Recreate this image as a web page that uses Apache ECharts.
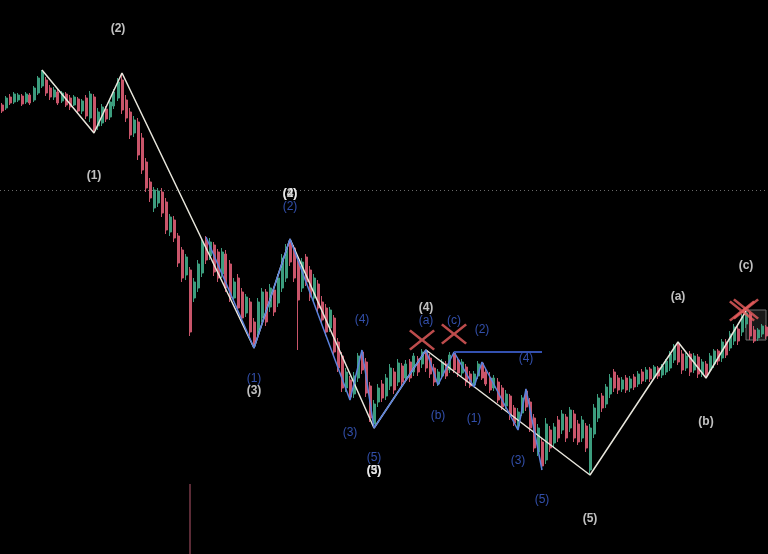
<!DOCTYPE html>
<html><head><meta charset="utf-8">
<script src="https://cdn.jsdelivr.net/npm/echarts@6/dist/echarts.min.js"></script>
<style>html,body{margin:0;padding:0;background:#000;}#c{width:768px;height:554px;}</style>
</head><body><div id="c"></div>
<script>
// candles: [open, close, low, high]
const candles = [
[495,489,487,497],[492,502,490,504],[503,497,495,506],[498,506,496,508],[500,505,498,507],
[504,496,494,506],[498,506,496,508],[505,497,495,507],[500,512,498,514],[507,522,505,524],
[514,528,512,530],[520,507,504,523],[512,503,500,515],[503,510,500,513],[508,497,495,511],
[499,507,497,509],[506,495,493,508],[502,493,490,505],[495,503,494,505],[501,489,486,503],
[489,499,486,501],[502,484,481,505],[482,506,478,509],[503,470,467,506],[474,488,470,492],
[477,493,474,496],[491,481,478,494],[483,498,480,501],[494,508,491,511],[502,518,499,522],
[520,490,486,527],[500,482,478,505],[488,465,461,492],[467,480,463,484],[478,445,440,482],
[462,430,426,467],[438,412,408,442],[418,402,398,422],[392,410,388,413],[397,409,393,412],
[408,387,383,412],[398,370,366,402],[368,383,364,386],[380,362,358,384],[364,337,333,367],
[350,322,318,353],[325,343,320,346],[330,268,264,333],[302,318,298,322],[312,336,308,340],
[327,358,323,362],[360,340,336,364],[344,358,340,362],[355,328,324,358],[348,322,318,351],
[326,348,322,352],[346,312,308,350],[336,302,298,340],[302,318,298,322],[322,292,288,326],
[308,282,278,312],[287,303,283,306],[298,268,264,302],[278,256,252,282],[268,298,262,302],
[282,308,278,312],[308,278,274,311],[293,312,288,316],[310,288,284,313],[297,322,293,326],
[312,342,308,346],[322,352,318,356],[358,338,334,361],[352,322,318,355],[338,300,250,344],
[312,338,308,342],[343,318,314,346],[330,303,299,334],[302,322,298,326],[316,292,288,320],
[298,280,276,304],[292,268,264,296],[272,290,268,293],[282,248,244,285],[258,232,228,262],
[244,212,208,248],[212,228,208,232],[220,203,200,224],[206,224,202,228],[222,244,218,247],
[248,230,226,250],[238,207,203,242],[214,182,178,218],[176,196,172,200],[198,212,193,216],
[216,202,198,220],[204,222,200,226],[214,232,210,236],[228,210,206,232],[218,237,214,241],
[234,218,214,237],[222,236,218,240],[238,222,218,241],[228,244,224,247],[241,228,224,244],
[236,248,232,251],[249,232,228,250],[242,226,222,246],[232,218,214,236],[216,228,214,231],
[224,238,221,241],[236,224,221,239],[230,245,227,248],[247,230,227,248],[240,227,223,243],
[227,238,224,241],[233,218,214,236],[226,214,212,229],[215,226,213,229],[224,236,221,239],
[237,222,220,238],[228,216,214,232],[222,210,207,228],[212,222,209,225],[218,200,197,222],
[212,193,190,215],[194,206,191,210],[204,184,180,206],[192,177,174,195],[174,188,170,192],
[187,202,184,205],[209,193,189,211],[198,172,168,202],[182,152,148,186],[148,172,144,176],
[158,134,130,162],[140,176,136,182],[170,152,148,174],[157,173,152,177],[180,162,158,184],
[170,186,166,190],[183,162,158,186],[172,190,168,193],[186,162,158,190],[176,158,155,180],
[162,180,158,184],[174,152,148,177],[130,172,125,176],[166,192,162,196],[182,202,178,206],
[204,192,188,207],[196,213,192,216],[206,222,202,226],[228,212,208,231],[222,210,206,225],
[211,220,208,223],[222,210,207,225],[212,221,208,224],[223,213,210,226],[216,226,213,229],
[228,219,216,231],[221,230,218,233],[231,221,218,233],[223,233,220,235],[232,224,221,234],
[225,234,222,236],[228,239,225,241],[232,246,229,249],[240,254,237,256],[256,238,235,258],
[246,230,226,250],[232,244,229,247],[246,228,224,249],[230,244,227,247],[243,226,222,246],
[226,238,223,241],[236,224,222,239],[230,244,227,247],[236,249,232,251],[249,239,235,251],
[242,258,238,261],[258,245,242,261],[252,266,249,269],[259,273,255,276],[271,259,255,274],
[268,283,264,286],[276,287,272,289],[286,264,260,288],[270,259,257,274],[262,270,259,272],
[266,274,263,276],[273,264,261,275]
];
const categories = candles.map((_, i) => String(i));

// Elliott wave pivots [candle index, price]
const whiteWave = [[10,530],[23,467],[30,527],[63,252],[72,361],[93,172],[106,250],[147,125],[169,258],[176,222],[186,289]];
const blueWave = [[51,363],[63,252],[72,361],[87,200],[90,250],[93,172],[106,250],[109,215],[113,248],[118,213],[120,238],[129,170],[131,211],[135,130]];
const blueLevel = [[113,248],[135,248]];
const markerLine = [[47,116],[47,46]];
const dottedLevel = 410;
const boxRange = [[186,290],[191,260]];

// labels [index, price, text]
const whiteLabels = [[29,571,'(2)'],[23,424,'(1)'],[63,209,'(3)'],[72,406,'(2)'],[72,406,'(4)'],[93,129,'(3)'],[93,129,'(5)'],[106,292,'(4)'],[147,81,'(5)'],[169,303,'(a)'],[176,178,'(b)'],[186,334,'(c)']];
const blueLabels = [[63,221,'(1)'],[72,393,'(2)'],[90,280,'(4)'],[87,167,'(3)'],[93,142,'(5)'],[106,279,'(a)'],[109,184,'(b)'],[113,279,'(c)'],[120,270,'(2)'],[118,181,'(1)'],[131,241,'(4)'],[129,139,'(3)'],[135,100,'(5)']];
const crosses = [[105,260],[113,266],[185,289],[186,291]];

const UP = '#3c9d7e', DOWN = '#c9556a';
const X_PATH = 'path://M0,1.6L1.6,0L12,8.6L22.4,0L24,1.6L14,10L24,18.4L22.4,20L12,11.4L1.6,20L0,18.4L10,10Z';

function labelSeries(arr, color, weight) {
  return {
    type: 'scatter', symbolSize: 1, itemStyle: {color: 'rgba(0,0,0,0)'}, z: 20,
    data: arr.map(d => ({value: [d[0], d[1]], name: d[2]})),
    label: {show: true, position: 'inside', formatter: '{b}', color: color, fontSize: 12,
      fontWeight: weight, fontFamily: 'Liberation Sans, Arial, sans-serif'}
  };
}

const chart = echarts.init(document.getElementById('c'), null, {renderer: 'canvas'});
chart.setOption({
  backgroundColor: '#000',
  animation: false,
  grid: {left: 0, right: 0, top: 0, bottom: 0},
  xAxis: {type: 'category', data: categories, show: false, boundaryGap: true},
  yAxis: {type: 'value', min: 46, max: 600, show: false},
  series: [
    {
      type: 'candlestick', data: candles, barWidth: 2.5,
      itemStyle: {color: UP, color0: DOWN, borderColor: UP, borderColor0: DOWN, borderWidth: 1},
      markLine: {silent: true, symbol: 'none', label: {show: false},
        lineStyle: {color: '#6a6a6a', type: [1, 3], width: 1},
        data: [{yAxis: dottedLevel}]},
      markArea: {silent: true,
        itemStyle: {color: 'rgba(70,70,70,0.35)', borderColor: '#6e6e6e', borderWidth: 1},
        data: [[{coord: boxRange[0]}, {coord: boxRange[1]}]]}
    },
    {type: 'line', data: markerLine, symbol: 'none', lineStyle: {color: '#7a3a48', width: 1.5}, z: 5},
    {type: 'line', data: whiteWave, symbol: 'none', lineStyle: {color: '#e8e6dc', width: 1.5}, z: 6},
    {type: 'line', data: blueWave, symbol: 'none', lineStyle: {color: '#5b82dc', width: 1.5}, z: 7},
    {type: 'line', data: blueLevel, symbol: 'none', lineStyle: {color: '#3451b0', width: 2}, z: 7},
    labelSeries(whiteLabels, '#f0f0f0', 'bold'),
    labelSeries(blueLabels, '#3f63d4', 'normal'),
    {type: 'scatter', data: crosses, symbol: X_PATH, symbolSize: [26, 21], symbolKeepAspect: false,
      itemStyle: {color: '#ec5f5f'}, z: 25}
  ]
});
</script></body></html>
